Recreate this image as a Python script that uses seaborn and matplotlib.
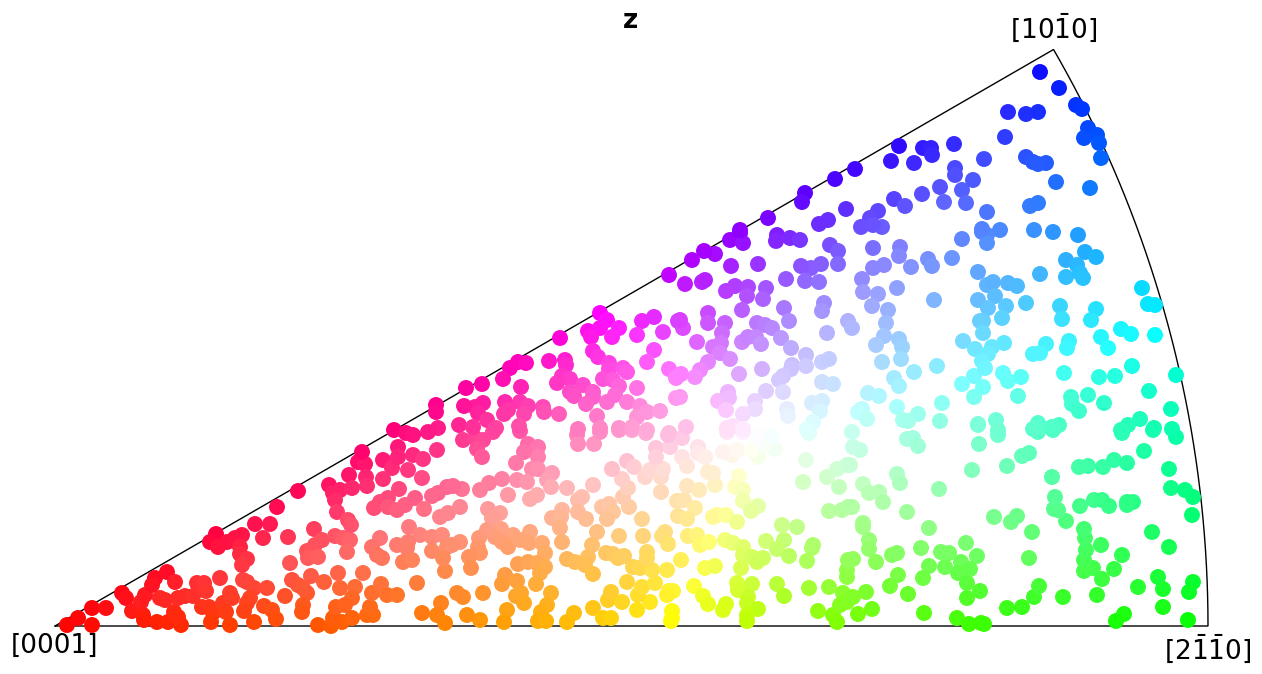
import colorsys
import numpy as np
import pandas as pd
import matplotlib
matplotlib.use("Agg")
import matplotlib.pyplot as plt
import seaborn as sns

# Orientations, (x, y) on a 1153-per-unit scale
apex_region = [(67,625),(78,618),(92,625),(92,608),(106,608),(122,593),(126,598),(132,611),(141,602),(145,595),(143,615),(144,620),(157,622),(168,622),(181,625),(174,612),(178,617),(155,578),(152,585),(167,572),(175,582),(160,598),(165,600),(185,596),(193,596),(178,598),(197,583),(204,583),(206,591),(220,578),(202,607),(209,607),(213,613),(211,622),(230,625),(223,603),(230,593),(226,612),(232,598),(243,580),(247,582),(254,588),(267,588),(250,598),(247,603),(244,611),(254,622),(264,606),(272,610),(276,619),(285,596),(290,563),(292,580),(298,585),(307,593),(311,576),(303,588),(303,605),(302,612),(318,625),(331,626),(342,622),(352,618),(333,618),(336,607),(324,582),(338,573),(340,588),(355,587),(352,598),(345,605),(363,573),(367,615),(373,615),(370,607),(372,593),(381,584),(387,595),(397,595),(417,583),(422,613),(441,603),(437,615),(445,623),(216,534),(210,542),(218,547),(227,542),(242,535),(235,538),(240,547),(240,554),(247,559),(242,565),(255,524),(270,524),(263,538),(288,537),(277,507),(298,491),(314,529),(322,540),(315,545),(307,551),(308,558),(318,557),(335,536),(343,538),(350,540),(347,552),(329,485),(333,493),(340,490),(335,500),(337,512),(348,520),(351,525),(349,475),(352,488),(358,462),(365,464),(362,452),(366,477),(367,486),(383,460),(392,468),(383,479),(398,447),(398,457),(413,455),(423,459),(408,470),(422,478),(437,450),(399,489),(388,498),(380,502),(374,508),(388,507),(397,510),(405,505),(415,498),(424,509),(432,496),(438,493),(447,487),(440,517),(448,513),(409,527),(420,535),(380,538),(372,547),(397,545),(408,542),(407,548),(432,537),(442,535),(432,551),(377,555),(382,558),(403,562),(412,560),(447,547),(445,571),(443,558)]
bottom_middle = [(463,440),(475,438),(483,440),(477,449),(482,457),(493,432),(520,431),(528,444),(538,447),(538,457),(524,452),(516,463),(532,469),(538,469),(552,473),(547,480),(551,487),(502,479),(517,480),(527,482),(489,483),(480,490),(462,489),(453,486),(508,495),(530,499),(537,495),(567,488),(582,497),(578,500),(593,485),(578,512),(562,510),(552,518),(561,517),(586,519),(560,528),(597,532),(562,542),(592,545),(588,557),(567,559),(575,562),(585,565),(593,574),(460,507),(488,509),(500,513),(492,518),(487,530),(501,529),(530,532),(513,535),(495,537),(479,538),(502,542),(460,542),(452,545),(478,547),(508,547),(520,540),(529,543),(542,543),(545,553),(480,553),(469,557),(471,568),(518,564),(528,562),(537,563),(545,567),(540,573),(536,584),(505,575),(502,584),(517,581),(516,596),(521,593),(524,603),(551,593),(547,605),(541,612),(538,621),(546,621),(507,610),(504,622),(483,593),(463,597),(457,593),(480,620),(467,615),(574,613),(567,622),(593,608),(603,618),(611,618),(608,600),(611,592),(622,602),(637,610),(650,602),(638,595),(627,582),(642,587),(655,583),(633,567),(640,568),(652,570),(647,552),(647,558),(606,553),(613,554),(618,558),(624,556),(619,536),(643,536),(665,532),(662,536),(668,544),(642,519),(602,507),(609,504),(613,512),(607,519),(629,507),(623,497),(628,488),(622,479),(612,469),(627,461),(634,467),(645,477),(650,470),(661,477),(663,469),(661,492),(656,448),(656,457),(670,447),(682,457),(687,466),(668,435),(682,438),(698,447),(698,453),(705,457),(677,501),(684,500),(687,486),(699,490),(695,508),(678,516),(687,519),(688,536),(697,535),(700,545),(709,542),(681,560),(667,570),(669,591),(673,591),(667,595),(672,611),(672,618),(671,621),(694,586),(703,596),(708,604),(726,604),(723,610),(705,568),(715,566),(717,515),(713,517),(726,515),(737,522),(725,540),(733,543),(743,547),(743,555),(752,557),(757,562),(763,558),(741,568),(766,541),(784,540),(777,549),(789,556),(782,525),(797,527),(813,545),(812,548),(807,561),(737,583),(752,584),(738,590),(748,597),(747,603),(758,609),(747,615),(747,621),(777,584),(784,596),(809,588),(818,611),(829,587),(833,615),(837,622),(840,605),(843,593),(847,602),(847,570),(848,560),(847,577),(739,476),(735,487),(743,490),(743,501),(758,506),(751,511),(803,482),(827,477),(837,469),(847,465),(839,487),(829,511),(842,510),(848,507),(806,460),(775,449),(758,457),(732,455),(723,452),(737,450),(752,450),(763,445),(758,437),(772,436),(809,433),(727,432),(743,432),(708,472),(715,485),(713,473),(577,435),(578,444),(594,444),(600,432),(619,430),(632,430),(646,433)]
bottom_right = [(907,439),(913,438),(918,446),(860,450),(853,447),(850,465),(897,474),(900,483),(863,484),(869,493),(879,492),(883,502),(939,489),(852,507),(907,512),(863,523),(863,527),(929,528),(869,540),(869,549),(853,559),(876,562),(892,555),(897,553),(921,548),(941,552),(949,553),(966,543),(977,556),(929,566),(945,567),(961,562),(970,569),(958,573),(898,575),(890,586),(923,578),(967,583),(908,594),(866,592),(980,591),(967,598),(872,609),(858,614),(853,597),(924,613),(957,618),(969,624),(981,623),(984,624),(1007,608),(1022,607),(1034,597),(1039,586),(1063,597),(1097,595),(1102,579),(1114,569),(1093,568),(1084,571),(1084,560),(1086,550),(1101,545),(1122,555),(1085,538),(1084,529),(1029,558),(1032,532),(1066,521),(1058,510),(1054,509),(1055,497),(1080,506),(1094,500),(1102,500),(1109,506),(1127,502),(1133,502),(1127,505),(994,517),(1011,522),(1017,516),(972,470),(1007,466),(1022,456),(1029,453),(1052,477),(1079,467),(1088,466),(1103,467),(1114,460),(1127,463),(1144,451),(1169,469),(1171,488),(1185,490),(1193,497),(1192,515),(1152,532),(1169,547),(1158,577),(1163,589),(1138,587),(1193,582),(1189,592),(1163,607),(1188,620),(1124,614),(1116,621),(979,444),(998,435),(1038,432),(1053,430),(1122,433),(1153,430),(1176,437)]
upper_left = [(669,275),(600,313),(607,320),(588,331),(600,328),(591,337),(619,328),(612,337),(560,338),(642,321),(654,317),(637,335),(663,332),(678,321),(654,350),(647,362),(593,351),(598,357),(609,363),(609,369),(623,368),(627,372),(549,361),(565,360),(566,365),(518,362),(526,363),(510,368),(503,379),(482,384),(466,388),(521,387),(562,376),(570,379),(557,383),(603,379),(613,380),(619,386),(583,385),(593,392),(570,392),(574,396),(637,388),(593,397),(607,402),(615,395),(586,404),(627,402),(669,369),(676,378),(676,398),(640,406),(647,412),(660,411),(637,417),(597,416),(559,414),(543,407),(544,412),(520,402),(528,406),(524,414),(505,402),(508,410),(504,414),(483,403),(475,407),(464,406),(478,413),(487,420),(436,405),(436,412),(459,425),(438,428),(428,432),(394,430),(406,433),(413,435),(496,428),(519,426),(473,427),(578,429),(600,428),(619,428),(632,427),(647,430),(669,433)]
upper_middle = [(740,233),(730,240),(743,243),(715,254),(704,251),(692,260),(777,235),(776,241),(790,238),(800,240),(830,245),(838,251),(873,248),(900,247),(899,256),(962,239),(952,258),(928,259),(932,266),(911,267),(884,265),(873,268),(838,264),(821,264),(811,268),(801,266),(758,264),(731,266),(685,284),(702,282),(705,280),(786,279),(805,281),(819,282),(862,279),(897,288),(863,292),(878,294),(872,306),(888,310),(934,300),(735,286),(726,291),(748,287),(766,288),(747,296),(763,299),(784,308),(742,310),(708,313),(708,323),(725,323),(722,333),(757,323),(765,325),(772,328),(789,321),(824,303),(822,311),(848,321),(852,328),(886,323),(884,336),(827,333),(781,338),(683,328),(680,320),(697,342),(721,343),(713,347),(720,353),(742,342),(748,337),(756,337),(761,344),(791,348),(876,345),(899,339),(902,347),(963,341),(975,349),(730,359),(708,362),(700,370),(695,377),(681,374),(806,355),(792,365),(806,366),(822,362),(829,359),(882,362),(901,359),(937,366),(739,374),(762,369),(791,369),(783,376),(779,380),(914,372),(894,378),(974,376),(962,384),(822,382),(833,384),(899,386),(868,393),(879,396),(766,391),(783,392),(728,392),(718,401),(729,398),(755,401),(822,401),(812,403),(974,397),(726,410),(755,409),(743,414),(787,409),(788,416),(820,411),(862,409),(858,412),(867,419),(897,407),(942,403),(918,414),(903,420),(908,421),(940,421),(978,424),(813,422),(733,426),(743,429),(727,428),(686,427),(680,397),(807,429),(852,432)]
upper_right = [(987,235),(982,232),(1000,230),(987,243),(1034,230),(1053,232),(1078,235),(1085,252),(1096,257),(1066,260),(1077,265),(1040,274),(1066,277),(1080,273),(1083,278),(978,272),(987,285),(993,282),(1008,283),(1017,286),(995,296),(978,300),(988,308),(1006,306),(1026,303),(1002,318),(980,321),(983,321),(983,333),(1004,343),(992,347),(988,354),(982,361),(985,368),(983,387),(1060,306),(1062,319),(1096,309),(1091,320),(1142,288),(1148,304),(1155,305),(1121,329),(1131,334),(1155,335),(1101,337),(1108,348),(1069,341),(1067,348),(1046,344),(1040,353),(1033,354),(1003,373),(1008,381),(1021,377),(1018,396),(1064,373),(1099,377),(1115,376),(1132,366),(1176,375),(1149,391),(1088,395),(1071,397),(1072,404),(1079,411),(1104,403),(1171,409),(1140,419),(1128,425),(1154,428),(1172,429),(978,425),(996,420),(998,430),(1038,423),(1059,425),(1052,427),(1033,429),(1121,430)]
top_region = [(899,146),(891,161),(914,163),(923,148),(931,148),(932,155),(954,144),(855,169),(835,179),(805,193),(802,202),(768,218),(740,230),(846,209),(828,220),(819,224),(878,211),(870,218),(861,227),(882,227),(873,225),(894,199),(905,206),(922,194),(940,187),(944,202),(955,168),(955,175),(962,190),(1040,72),(1059,88),(1076,105),(1082,109),(1008,112),(1026,114),(1038,112),(1088,128),(1097,135),(1084,138),(1099,143),(1101,158),(1005,137),(984,159),(1026,157),(1033,162),(1046,163),(1038,164),(1056,182),(1090,188),(973,180),(966,203),(987,212),(1030,206),(1038,203),(982,229)]

pole_labels = [r"[0001]", r"[2$\bar{1}\bar{1}$0]", r"[10$\bar{1}$0]"]
title_text = "z"

# Colour key: hue at sampled places on the sector edge
key_points = [(55,626),(230,626),(340,626),(480,626),(540,626),(610,626),(672,626),(747,626),(837,626),(970,626),(1116,626),(1208,626),
              (1192,515),(1176,375),(1155,335),(1142,288),(1101,158),(1054,48),(855,169),(740,230),(669,275),(600,313),(466,388),(298,491),(216,534)]
key_hues = [0,15,22,36,41,50,60,75,90,105,115,120,146,169,180,189,217,240,255,274,285,300,322,340,345]

SCALE = 1153.0
X0, Y0 = 55.0, 626.0
WHITE = (755.0, 440.0)

pts = np.array(apex_region + bottom_middle + bottom_right + upper_left + upper_middle + upper_right + top_region, float)
x = (pts[:, 0] - X0) / SCALE
y = (Y0 - pts[:, 1]) / SCALE
kp = np.array(key_points, float)
kx, ky = (kp[:, 0] - X0) / SCALE, (Y0 - kp[:, 1]) / SCALE
cx, cy = (WHITE[0] - X0) / SCALE, (Y0 - WHITE[1]) / SCALE
T30 = np.tan(np.radians(30))


def angle(px, py):
    # Direction towards the white point; grows from [0001] along the bottom edge
    return (np.degrees(np.arctan2(cy - py, cx - px)) + 360) % 360


def edge_t(dx, dy):
    # Ray parameter at which centre + t*(dx, dy) meets the sector outline
    ts = []
    if dy < 0:
        ts.append(-cy / dy)
    den = dy - T30 * dx
    if den > 0:
        ts.append((T30 * cx - cy) / den)
    a, b, c = dx**2 + dy**2, 2 * (cx * dx + cy * dy), cx**2 + cy**2 - 1
    ts.append((-b + np.sqrt(b * b - 4 * a * c)) / (2 * a))
    return min(t for t in ts if t > 0)


ka = angle(kx, ky)
start = ka[0]
ka_u = (ka - start) % 360
hue_table = np.array(key_hues, float)
colors = []
for px, py in zip(x, y):
    dx, dy = px - cx, py - cy
    a = (angle(px, py) - start) % 360
    h = np.interp(a, np.r_[ka_u, 360], np.r_[hue_table, 360]) % 360
    s = min(1.0, 1.0 / edge_t(dx, dy))
    colors.append(colorsys.hsv_to_rgb(h / 360, s, 1.0))

df = pd.DataFrame({"x": x, "y": y})

sns.set_theme(style="white")
plt.rcParams["font.family"] = ["DejaVu Sans"]
plt.rcParams["mathtext.default"] = "regular"
fig = plt.figure(figsize=(12.62, 6.74), dpi=100)
ax = fig.add_axes([0, 0, 1, 1])

th = np.radians(np.linspace(0, 30, 200))
ax.plot(np.r_[0, np.cos(th), 0], np.r_[0, np.sin(th), 0], color="black", lw=1.0, zorder=1, solid_joinstyle="miter")

sns.scatterplot(data=df, x="x", y="y", c=colors, s=132, linewidth=0, legend=False, ax=ax, zorder=2, clip_on=False)

ax.set_xlim(-X0 / SCALE, (1262 - X0) / SCALE)
ax.set_ylim((Y0 - 674) / SCALE, Y0 / SCALE)
ax.set_axis_off()

FS = 19
ax.text(0.0, -20 / SCALE, pole_labels[0], ha="center", va="center", fontsize=FS, color="black")
ax.text(1.0, -23 / SCALE, pole_labels[1], ha="center", va="center", fontsize=FS, color="black")
ax.text(999 / SCALE, 598 / SCALE, pole_labels[2], ha="center", va="center", fontsize=FS, color="black")
ax.text(575.5 / SCALE, 605 / SCALE, title_text, ha="center", va="center", fontsize=FS, fontweight="bold", color="black")

fig.savefig("out.png", dpi=100)
